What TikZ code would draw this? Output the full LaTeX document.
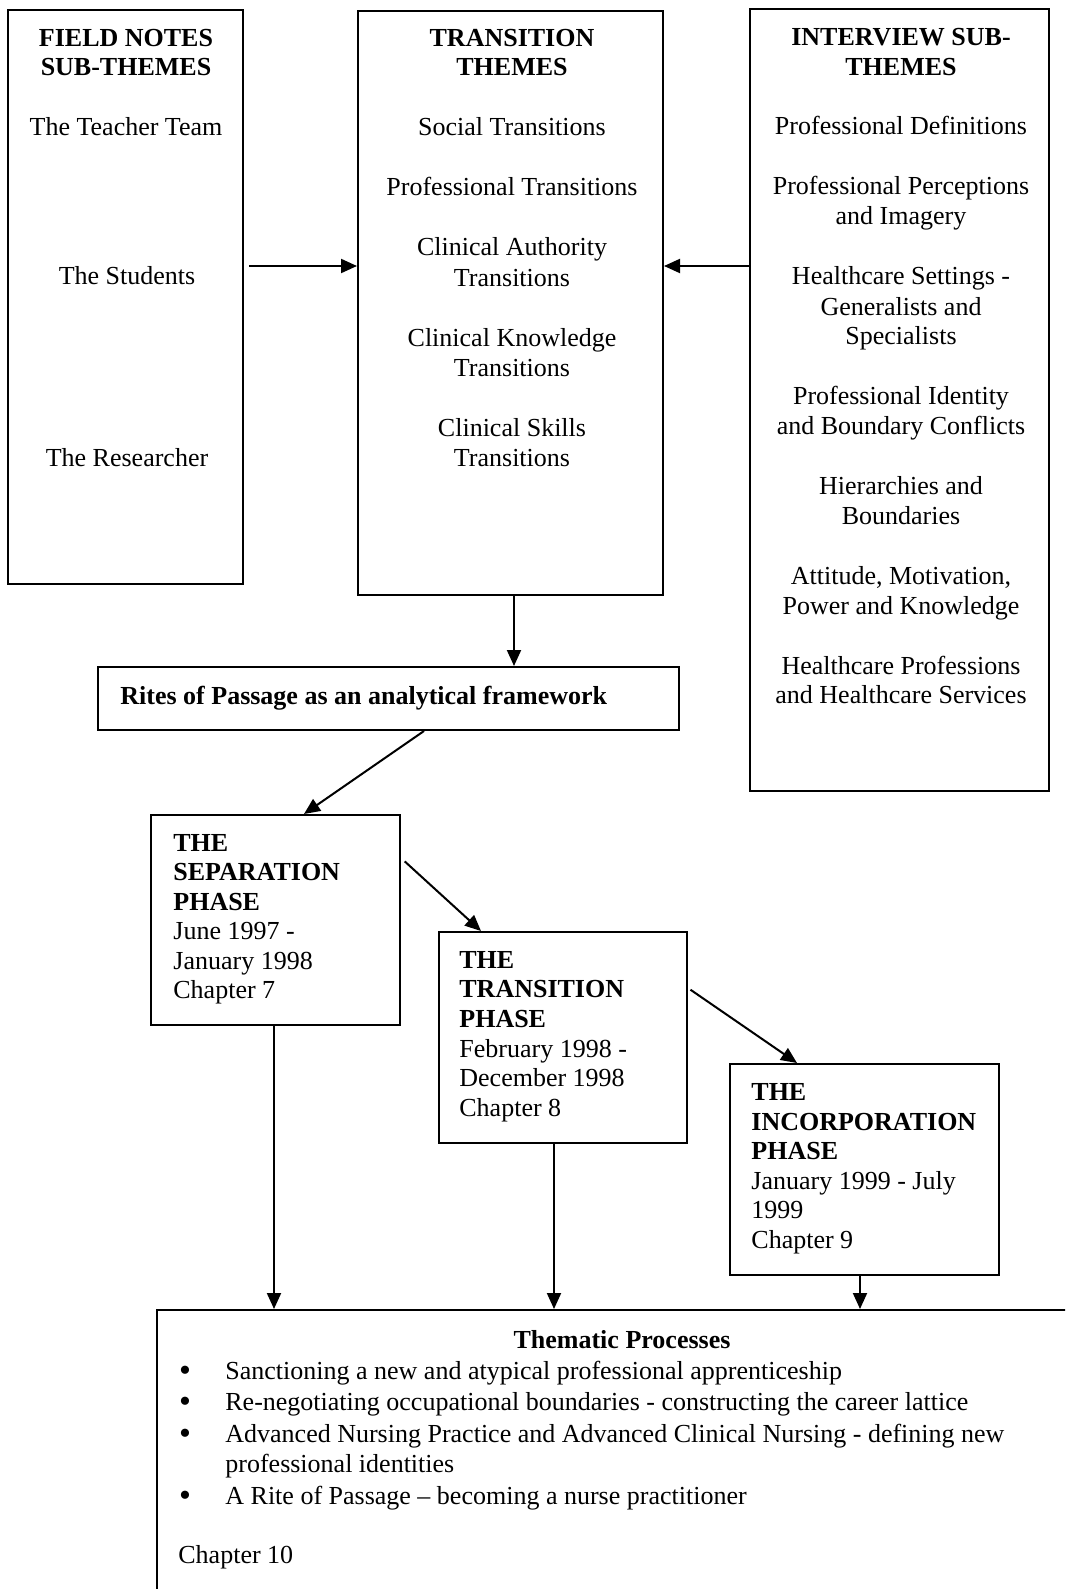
\documentclass[tikz,border=0pt]{standalone}
\usepackage{fontspec}
\setmainfont{Liberation Serif}
\usetikzlibrary{arrows.meta,fit}
\begin{document}
\begin{tikzpicture}[x=0.5pt,y=-0.5pt,
  box/.style={draw, line width=1pt, inner sep=0pt},
  txt/.style={font=\fontsize{13pt}{15pt}\selectfont, inner sep=0pt, anchor=base},
  hd/.style={font=\fontsize{13pt}{15pt}\selectfont\bfseries, inner sep=0pt, anchor=base},
  lt/.style={txt, anchor=base west},
  lh/.style={hd, anchor=base west},
  bul/.style={font=\fontsize{17pt}{17pt}\selectfont, inner sep=0pt, anchor=base},
  arr/.style={line width=1pt, -{Triangle[length=8pt,width=7pt]}}]
\useasboundingbox (0,0) rectangle (1065,1589);
\clip (0,0) rectangle (1065,1589);
% box corners
\coordinate (fn1) at (8,10);    \coordinate (fn2) at (243,584);
\coordinate (tt1) at (358,11);  \coordinate (tt2) at (663,595);
\coordinate (iv1) at (750,9);   \coordinate (iv2) at (1049,791);
\coordinate (rp1) at (98,667);  \coordinate (rp2) at (679,730);
\coordinate (sp1) at (151,815); \coordinate (sp2) at (400,1025);
\coordinate (tp1) at (439,932); \coordinate (tp2) at (687,1143);
\coordinate (ip1) at (730,1064);\coordinate (ip2) at (999,1275);
\coordinate (bt1) at (157,1310);\coordinate (bt2) at (1080,1610);
\node[box, fit=(fn1)(fn2)] (fn) {};
\node[box, fit=(tt1)(tt2)] (tt) {};
\node[box, fit=(iv1)(iv2)] (iv) {};
\node[box, fit=(rp1)(rp2)] (rp) {};
\node[box, fit=(sp1)(sp2)] (sp) {};
\node[box, fit=(tp1)(tp2)] (tp) {};
\node[box, fit=(ip1)(ip2)] (ip) {};
\node[box, fit=(bt1)(bt2)] (bt) {};
% left column
\node[hd] (fnh1) at (126,47) {FIELD NOTES};
\node[hd] (fnh2) at (126,76) {SUB-THEMES};
\node[txt] (fna) at (126,136) {The Teacher Team};
\node[txt] (fnb) at (127,285) {The Students};
\node[txt] (fnc) at (127,466) {The Researcher};
% middle column
\node[hd] (tth1) at (512,47) {TRANSITION};
\node[hd] (tth2) at (512,76) {THEMES};
\node[txt] (tta) at (512,136) {Social Transitions};
\node[txt] (ttb) at (512,196) {Professional Transitions};
\node[txt] (ttc1) at (512,256) {Clinical Authority};
\node[txt] (ttc2) at (512,286) {Transitions};
\node[txt] (ttd1) at (512,346) {Clinical Knowledge};
\node[txt] (ttd2) at (512,376) {Transitions};
\node[txt] (tte1) at (512,436) {Clinical Skills};
\node[txt] (tte2) at (512,466) {Transitions};
% right column
\node[hd] (ivh1) at (901,46) {INTERVIEW SUB-};
\node[hd] (ivh2) at (901,76) {THEMES};
\node[txt] (iva) at (901,135) {Professional Definitions};
\node[txt] (ivb1) at (901,195) {Professional Perceptions};
\node[txt] (ivb2) at (901,225) {and Imagery};
\node[txt] (ivc1) at (901,285) {Healthcare Settings -};
\node[txt] (ivc2) at (901,315) {Generalists and};
\node[txt] (ivc3) at (901,344) {Specialists};
\node[txt] (ivd1) at (901,404) {Professional Identity};
\node[txt] (ivd2) at (901,434) {and Boundary Conflicts};
\node[txt] (ive1) at (901,494) {Hierarchies and};
\node[txt] (ive2) at (901,524) {Boundaries};
\node[txt] (ivf1) at (901,584) {Attitude, Motivation,};
\node[txt] (ivf2) at (901,614) {Power and Knowledge};
\node[txt] (ivg1) at (901,674) {Healthcare Professions};
\node[txt] (ivg2) at (901,703) {and Healthcare Services};
% rites
\node[lh] (rpt) at (120,704) {Rites of Passage as an analytical framework};
% separation
\node[lh] (sp1t) at (173,851) {THE};
\node[lh] (sp2t) at (173,880) {SEPARATION};
\node[lh] (sp3t) at (173,910) {PHASE};
\node[lt] (sp4t) at (173,939) {June 1997 -};
\node[lt] (sp5t) at (173,969) {January 1998};
\node[lt] (sp6t) at (173,998) {Chapter 7};
% transition
\node[lh] (tp1t) at (459,968) {THE};
\node[lh] (tp2t) at (459,997) {TRANSITION};
\node[lh] (tp3t) at (459,1027) {PHASE};
\node[lt] (tp4t) at (459,1057) {February 1998 -};
\node[lt] (tp5t) at (459,1086) {December 1998};
\node[lt] (tp6t) at (459,1116) {Chapter 8};
% incorporation
\node[lh] (ip1t) at (751,1100) {THE};
\node[lh] (ip2t) at (751,1130) {INCORPORATION};
\node[lh] (ip3t) at (751,1159) {PHASE};
\node[lt] (ip4t) at (751,1189) {January 1999 - July};
\node[lt] (ip5t) at (751,1218) {1999};
\node[lt] (ip6t) at (751,1248) {Chapter 9};
% bottom
\node[hd] (bth) at (622,1348) {Thematic Processes};
\foreach \yy/\nm in {1381/a,1412/b,1444/c,1506/d}{
  \node[bul] (bl\nm) at (185,\yy) {\textbullet};
}
\node[lt] (bta) at (225,1379) {Sanctioning a new and atypical professional apprenticeship};
\node[lt] (btb) at (225,1410) {Re-negotiating occupational boundaries - constructing the career lattice};
\node[lt] (btc1) at (225,1442) {Advanced Nursing Practice and Advanced Clinical Nursing - defining new};
\node[lt] (btc2) at (225,1472) {professional identities};
\node[lt] (btd) at (225,1504) {A Rite of Passage -- becoming a nurse practitioner};
\node[lt] (bte) at (178,1563) {Chapter 10};
% arrows
\draw[arr, shorten <=2.5pt] (fn.east |- 0,266) -- (tt.west |- 0,266);
\draw[arr] (iv.west |- 0,266) -- (tt.east |- 0,266);
\draw[arr] (tt.south -| 514,0) -- (rp.north -| 514,0);
\draw[arr] (rp.south -| 424,0) -- (sp.north -| 304,0);
\draw[arr, shorten <=2.5pt] (sp.east |- 0,858) -- (tp.north -| 481,0);
\draw[arr, shorten <=1.5pt] (tp.east |- 0,988) -- (ip.north -| 797,0);
\draw[arr] (sp.south -| 274,0) -- (bt.north -| 274,0);
\draw[arr] (tp.south -| 554,0) -- (bt.north -| 554,0);
\draw[arr] (ip.south -| 860,0) -- (bt.north -| 860,0);
\end{tikzpicture}
\end{document}
